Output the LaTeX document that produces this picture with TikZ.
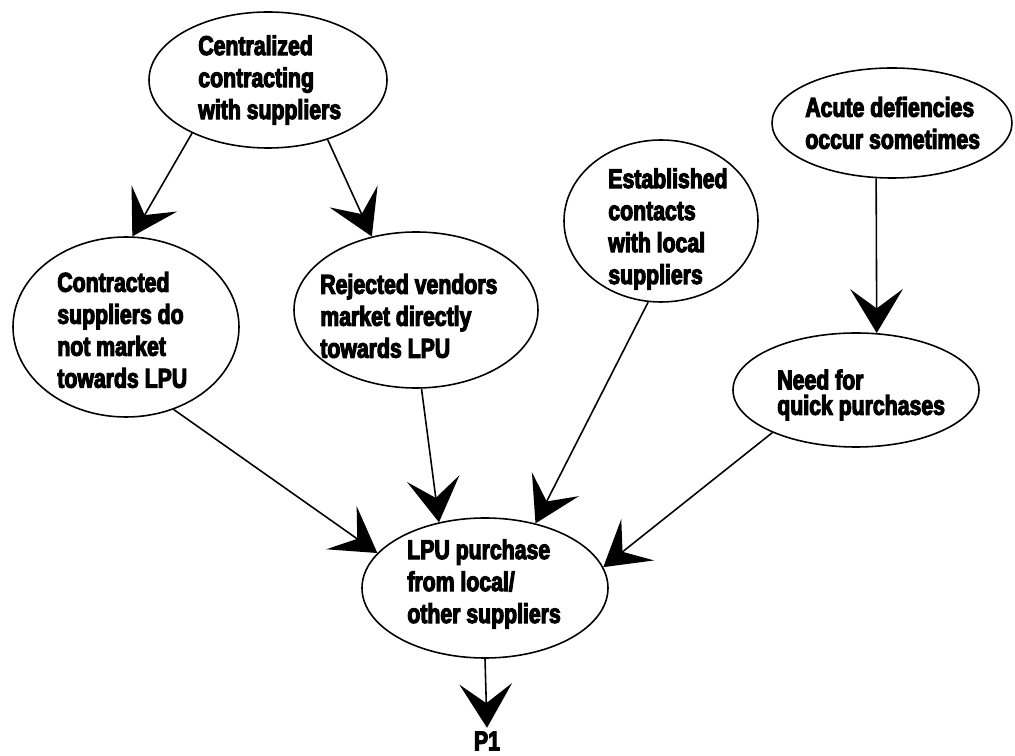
\documentclass[tikz,border=0pt]{standalone}
\usepackage{fontspec}
\newfontfamily\condfont{Liberation Sans}[FakeStretch=0.78, BoldFeatures={FakeBold=4}]
\usetikzlibrary{shapes.geometric, arrows.meta}
\newlength\pu
\setlength\pu{0.02cm}
\begin{document}
\begin{tikzpicture}[x=0.02cm, y=-0.02cm,
  bubble/.style={draw, ellipse, line width=0.9pt, inner sep=0pt},
  lbl/.style={inner sep=0pt, align=left, anchor=west,
    font=\condfont\bfseries\fontsize{15.5}{18.2}\selectfont},
  link/.style={line width=0.9pt, -{Stealth[length=25pt, width=30pt, inset=11pt]}}]
\useasboundingbox (0,0) rectangle (1015,756);

% ellipses
\node[bubble, minimum width=238\pu, minimum height=136\pu] (cen) at (268,80) {};
\node[bubble, minimum width=226\pu, minimum height=180\pu] (con) at (126,327) {};
\node[bubble, minimum width=244\pu, minimum height=156\pu] (rej) at (416,310) {};
\node[bubble, minimum width=194\pu, minimum height=162\pu] (est) at (661,221) {};
\node[bubble, minimum width=240\pu, minimum height=110\pu] (acu) at (892,123) {};
\node[bubble, minimum width=246\pu, minimum height=114\pu] (need) at (856,390) {};
\node[bubble, minimum width=246\pu, minimum height=140\pu] (lpu) at (485,588) {};

% texts
\node[lbl] (cen-t) at (198,80) {Centralized\\contracting\\with suppliers};
\node[lbl] (con-t) at (57,330) {Contracted\\suppliers do\\not market\\towards LPU};
\node[lbl] (rej-t) at (320,316) {Rejected vendors\\market directly\\towards LPU};
\node[lbl] (est-t) at (608,229) {Established\\contacts\\with local\\suppliers};
\node[lbl] (acu-t) at (805,123) {Acute defiencies\\occur sometimes};
\node[lbl, font=\condfont\bfseries\fontsize{15.5}{14.5}\selectfont] (need-t) at (777,395) {Need for\\quick purchases};
\node[lbl] (lpu-t) at (407,584) {LPU purchase\\from local/\\other suppliers};
\node[lbl, anchor=center, inner sep=2pt] (p1) at (487,741) {P1};

% connectors
\draw[link] (cen.215) -- (con.86);
\draw[link] (cen.315) -- (rej.121);
\draw[link] (con.300) -- (lpu.162);
\draw[link] (rej.274) -- (lpu.125);
\draw[link] (est.261) -- (lpu.52);
\draw[link] (need.207) -- (lpu.10);
\draw[link] (acu.254) -- (need.70);
\draw[link] (lpu.south) -- (p1.north);
\end{tikzpicture}
\end{document}
